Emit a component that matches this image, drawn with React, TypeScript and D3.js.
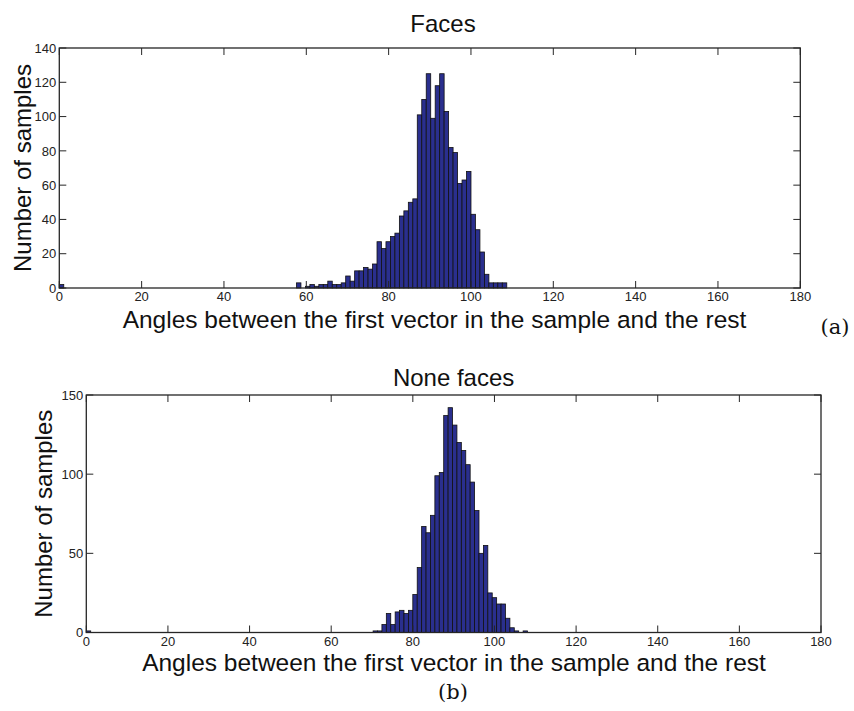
import React from "react";
import * as d3 from "d3";

// Histogram counts, one value per bin (100 bins each)
const faceCounts: number[] = [
  2, 0, 0, 0, 0, 0, 0, 0, 0, 0,
  0, 0, 0, 0, 0, 0, 0, 0, 0, 0,
  0, 0, 0, 0, 0, 0, 0, 0, 0, 0,
  0, 0, 0, 0, 0, 0, 0, 0, 0, 0,
  0, 0, 0, 0, 0, 0, 0, 0, 0, 0,
  0, 0, 0, 3, 0, 1, 2, 1, 2, 2,
  4, 2, 2, 3, 7, 4, 10, 10, 12, 11,
  14, 27, 23, 27, 30, 32, 42, 45, 50, 52,
  101, 110, 125, 99, 118, 125, 103, 82, 79, 61,
  63, 68, 43, 34, 21, 8, 3, 3, 3, 3,
];
const noneCounts: number[] = [
  1, 0, 0, 0, 0, 0, 0, 0, 0, 0,
  0, 0, 0, 0, 0, 0, 0, 0, 0, 0,
  0, 0, 0, 0, 0, 0, 0, 0, 0, 0,
  0, 0, 0, 0, 0, 0, 0, 0, 0, 0,
  0, 0, 0, 0, 0, 0, 0, 0, 0, 0,
  0, 0, 0, 0, 0, 0, 0, 0, 0, 0,
  0, 0, 0, 0, 0, 1, 1, 5, 12, 5,
  13, 14, 12, 14, 24, 41, 67, 63, 74, 99,
  101, 137, 142, 131, 120, 115, 106, 95, 77, 50,
  55, 25, 22, 18, 18, 9, 3, 1, 0, 1,
];
// bin width in degrees (data range / 100 bins)
const faceBinWidth = 1.087;
const noneBinWidth = 1.081;

const xTicks = [0, 20, 40, 60, 80, 100, 120, 140, 160, 180];
const faceYTicks = [0, 20, 40, 60, 80, 100, 120, 140];
const noneYTicks = [0, 50, 100, 150];

const xLabel = "Angles between the first vector in the sample and the rest";
const yLabel = "Number of samples";

const SANS = "'Liberation Sans', Arial, Helvetica, sans-serif";
const SERIF = "'DejaVu Serif', 'Liberation Serif', serif";
const BAR_FILL = "#2a2f8e";
const AXIS = "#262626";

type PanelProps = {
  counts: number[];
  binWidth: number;
  yMax: number;
  yTicks: number[];
  title: string;
  box: { left: number; right: number; top: number; bottom: number };
  titleX: number;
  titleY: number;
  xLabelX: number;
  xLabelY: number;
  yLabelX: number;
};

function Panel(p: PanelProps) {
  const { box } = p;
  const x = d3.scaleLinear().domain([0, 180]).range([box.left, box.right]);
  const y = d3.scaleLinear().domain([0, p.yMax]).range([box.bottom, box.top]);
  const tick = 7;

  return (
    <g>
      {/* bars */}
      {p.counts.map((c, i) =>
        c > 0 ? (
          <rect
            key={i}
            x={x(i * p.binWidth)}
            y={y(c)}
            width={x((i + 1) * p.binWidth) - x(i * p.binWidth)}
            height={y(0) - y(c)}
            fill={BAR_FILL}
            stroke="#111"
            strokeWidth={0.8}
          />
        ) : null
      )}
      {/* box */}
      <rect
        x={box.left}
        y={box.top}
        width={box.right - box.left}
        height={box.bottom - box.top}
        fill="none"
        stroke={AXIS}
        strokeWidth={1.3}
      />
      {/* x ticks, bottom and top, inward */}
      {xTicks.map((t) => (
        <g key={"x" + t}>
          <line x1={x(t)} x2={x(t)} y1={box.bottom} y2={box.bottom - tick} stroke={AXIS} />
          <line x1={x(t)} x2={x(t)} y1={box.top} y2={box.top + tick} stroke={AXIS} />
          <text
            x={x(t)}
            y={box.bottom + 13}
            textAnchor="middle"
            fontFamily={SANS}
            fontSize={13}
            fill="#222"
          >
            {t}
          </text>
        </g>
      ))}
      {/* y ticks, left and right, inward */}
      {p.yTicks.map((t) => (
        <g key={"y" + t}>
          <line x1={box.left} x2={box.left + tick} y1={y(t)} y2={y(t)} stroke={AXIS} />
          <line x1={box.right} x2={box.right - tick} y1={y(t)} y2={y(t)} stroke={AXIS} />
          <text
            x={box.left - 3}
            y={y(t)}
            dy="0.36em"
            textAnchor="end"
            fontFamily={SANS}
            fontSize={13}
            fill="#222"
          >
            {t}
          </text>
        </g>
      ))}
      <text x={p.titleX} y={p.titleY} textAnchor="middle" fontFamily={SANS} fontSize={24} fill="#111">
        {p.title}
      </text>
      <text x={p.xLabelX} y={p.xLabelY} textAnchor="middle" fontFamily={SANS} fontSize={24.5} fill="#111">
        {xLabel}
      </text>
      <text
        transform={`translate(${p.yLabelX},${(box.top + box.bottom) / 2}) rotate(-90)`}
        textAnchor="middle"
        fontFamily={SANS}
        fontSize={24}
        fill="#111"
      >
        {yLabel}
      </text>
    </g>
  );
}

export default function App() {
  return (
    <svg
      width={854}
      height={711}
      style={{ position: "absolute", left: 0, top: 0, background: "#fff" }}
    >
      <rect width={854} height={711} fill="#fff" />
      <Panel
        counts={faceCounts}
        binWidth={faceBinWidth}
        yMax={140}
        yTicks={faceYTicks}
        title="Faces"
        box={{ left: 59.3, right: 800.3, top: 48, bottom: 288 }}
        titleX={443}
        titleY={32}
        xLabelX={434.5}
        xLabelY={328}
        yLabelX={31}
      />
      <text x={835} y={334} textAnchor="middle" fontFamily={SERIF} fontSize={21} fill="#111">
        (a)
      </text>
      <Panel
        counts={noneCounts}
        binWidth={noneBinWidth}
        yMax={150}
        yTicks={noneYTicks}
        title="None faces"
        box={{ left: 86.3, right: 821, top: 395, bottom: 632.5 }}
        titleX={453.6}
        titleY={386}
        xLabelX={454}
        xLabelY={671}
        yLabelX={52}
      />
      <text x={453} y={699} textAnchor="middle" fontFamily={SERIF} fontSize={21} fill="#111">
        (b)
      </text>
    </svg>
  );
}
